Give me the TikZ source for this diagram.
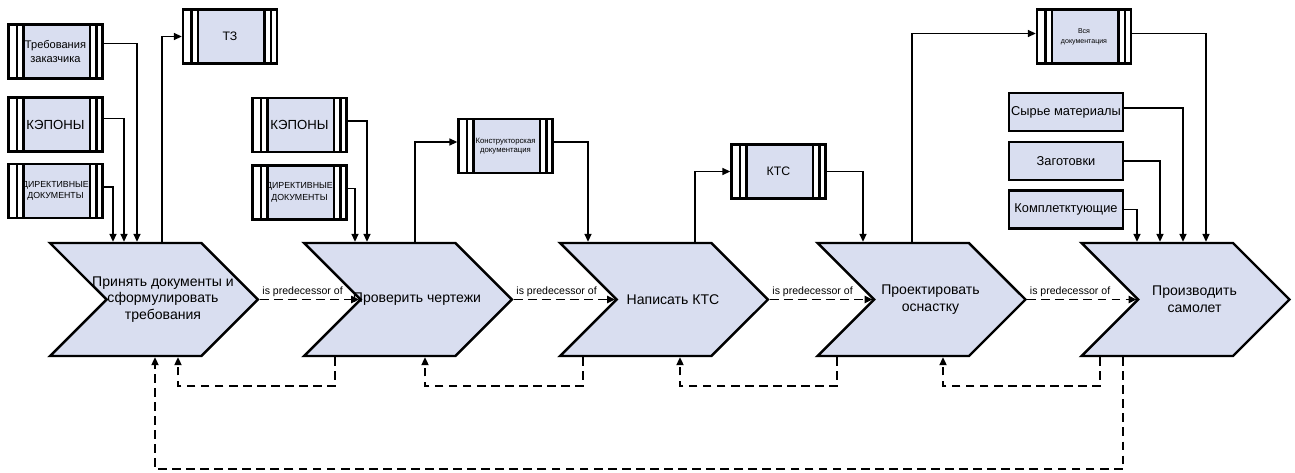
\documentclass[tikz,border=0pt]{standalone}
\usepackage{fontspec}
\setmainfont{Liberation Sans}
\usetikzlibrary{arrows.meta,positioning,calc,shapes.symbols}
\definecolor{procfill}{HTML}{D9DEF0}

\begin{document}
\begin{tikzpicture}[x=0.02cm, y=-0.02cm, >={Triangle[length=4.5pt,width=4pt]}]
  \tikzstyle{proc}=[draw, line width=1.4pt, fill=procfill, signal, signal from=west, signal to=east, signal pointer angle=90, minimum width=4.16cm, minimum height=2.26cm, inner sep=0pt]
  \tikzstyle{proctxt}=[align=center, font=\fontsize{8}{9.5}\selectfont]
  \tikzstyle{doc}=[draw, line width=1.4pt, fill=procfill, minimum width=1.88cm, minimum height=1.08cm, align=center, inner sep=1pt,
    path picture={
      \fill[white] (path picture bounding box.south west) rectangle ([xshift=0.30cm]path picture bounding box.north west);
      \fill[white] (path picture bounding box.south east) rectangle ([xshift=-0.25cm]path picture bounding box.north east);
      \draw[line width=1.3pt] ([xshift=0.17cm]path picture bounding box.south west) -- ([xshift=0.17cm]path picture bounding box.north west);
      \draw[line width=1.3pt] ([xshift=0.30cm]path picture bounding box.south west) -- ([xshift=0.30cm]path picture bounding box.north west);
      \draw[line width=1.3pt] ([xshift=-0.12cm]path picture bounding box.south east) -- ([xshift=-0.12cm]path picture bounding box.north east);
      \draw[line width=1.3pt] ([xshift=-0.25cm]path picture bounding box.south east) -- ([xshift=-0.25cm]path picture bounding box.north east);
    }]
  \tikzstyle{res}=[draw, line width=1.4pt, fill=procfill, minimum width=2.28cm, minimum height=0.76cm, inner sep=1pt, font=\fontsize{7.3}{8.5}\selectfont]
  \tikzstyle{flow}=[->, line width=0.8pt]
  \tikzstyle{pred}=[->, line width=1.1pt, dash pattern=on 5pt off 3pt]
  \tikzstyle{fb}=[->, line width=1pt, dash pattern=on 5pt off 3pt]
  \tikzstyle{predlbl}=[pos=0, anchor=south west, inner sep=1pt, font=\fontsize{6}{7}\selectfont]
  \useasboundingbox (0,0) rectangle (1295,473);

  % input documents
  \node[doc, font=\fontsize{6.3}{8}\selectfont] (treb) at (55.5,51.5) {Требования\\заказчика};
  \node[doc, font=\fontsize{7.5}{9}\selectfont] (kep1) at (55.5,124.5) {КЭПОНЫ};
  \node[doc, font=\fontsize{5}{6.5}\selectfont] (dir1) at (55.5,191) {ДИРЕКТИВНЫЕ\\ДОКУМЕНТЫ};
  \node[doc, font=\fontsize{7}{8}\selectfont] (tz) at (230,36.5) {ТЗ};
  \node[doc, font=\fontsize{7.5}{9}\selectfont] (kep2) at (299.5,125) {КЭПОНЫ};
  \node[doc, font=\fontsize{5}{6.5}\selectfont] (dir2) at (299.5,192.5) {ДИРЕКТИВНЫЕ\\ДОКУМЕНТЫ};
  \node[doc, font=\fontsize{4.4}{5.5}\selectfont] (kdoc) at (505.5,146) {Конструкторская\\документация};
  \node[doc, font=\fontsize{7}{8}\selectfont] (kts) at (778.5,171.5) {КТС};
  \node[doc, font=\fontsize{4}{5.5}\selectfont] (alldoc) at (1084,36.5) {Вся\\документация};
  \node[res] (syr) at (1066,112) {Сырье материалы};
  \node[res] (zag) at (1066,161) {Заготовки};
  \node[res] (kompl) at (1066,209.5) {Комплетктующие};

  % process chain
  \node[proc] (p1) at (154,299.5) {};
  \node[proc] (p2) at (408,299.5) {};
  \node[proc] (p3) at (664,299.5) {};
  \node[proc] (p4) at (921.5,299.5) {};
  \node[proc] (p5) at (1185.5,299.5) {};
  \node[proctxt] (t1) at ($(p1)+(9,0)$) {Принять документы и\\сформулировать\\требования};
  \node[proctxt] (t2) at ($(p2)+(9,0)$) {Проверить чертежи};
  \node[proctxt] (t3) at ($(p3)+(9,0)$) {Написать КТС};
  \node[proctxt] (t4) at ($(p4)+(9,0)$) {Проектировать\\оснастку};
  \node[proctxt] (t5) at ($(p5)+(9,0)$) {Производить\\самолет};
  \coordinate (n2) at ($(p2)+(-49,0)$);
  \coordinate (n3) at ($(p3)+(-49,0)$);
  \coordinate (n4) at ($(p4)+(-49,0)$);
  \coordinate (n5) at ($(p5)+(-49,0)$);

  \draw[pred] (p1.east) -- node[predlbl] {is predecessor of} (n2);
  \draw[pred] (p2.east) -- node[predlbl] {is predecessor of} (n3);
  \draw[pred] (p3.east) -- node[predlbl] {is predecessor of} (n4);
  \draw[pred] (p4.east) -- node[predlbl] {is predecessor of} (n5);

  % inputs and outputs
  \draw[flow] ($(treb.east)+(0,-8)$) -| ($(p1.north)+(-17,0)$);
  \draw[flow] ($(kep1.east)+(0,-6)$) -| ($(p1.north)+(-30,0)$);
  \draw[flow] ($(dir1.east)+(0,-4)$) -| ($(p1.north)+(-41,0)$);
  \draw[flow] ($(p1.north)+(8,0)$) |- (tz.west);
  \draw[flow] ($(kep2.east)+(0,-4)$) -| ($(p2.north)+(-41,0)$);
  \draw[flow] ($(dir2.east)+(0,-4)$) -| ($(p2.north)+(-53,0)$);
  \draw[flow] ($(p2.north)+(7,0)$) |- ($(kdoc.west)+(0,-4)$);
  \draw[flow] ($(kdoc.east)+(0,-4)$) -| ($(p3.north)+(-76,0)$);
  \draw[flow] ($(p3.north)+(31,0)$) |- (kts.west);
  \draw[flow] (kts.east) -| ($(p4.north)+(-58.5,0)$);
  \draw[flow] ($(p4.north)+(-9.5,0)$) |- ($(alldoc.west)+(0,-3)$);
  \draw[flow] ($(alldoc.east)+(0,-3)$) -| ($(p5.north)+(20.5,0)$);
  \draw[flow] ($(syr.east)+(0,-4)$) -| ($(p5.north)+(-2.5,0)$);
  \draw[flow] (zag.east) -| ($(p5.north)+(-25.5,0)$);
  \draw[flow] (kompl.east) -| ($(p5.north)+(-48.5,0)$);

  % feedback
  \draw[fb] ($(p2.south)+(-73,0)$) -- ++(0,29) -| ($(p1.south)+(24,0)$);
  \draw[fb] ($(p3.south)+(-81,0)$) -- ++(0,29) -| ($(p2.south)+(17,0)$);
  \draw[fb] ($(p4.south)+(-84.5,0)$) -- ++(0,29) -| ($(p3.south)+(16,0)$);
  \draw[fb] ($(p5.south)+(-85.5,0)$) -- ++(0,29) -| ($(p4.south)+(21.5,0)$);
  \draw[fb] ($(p5.south)+(-62.5,0)$) -- ++(0,112) -| ($(p1.south)+(1,0)$);
\end{tikzpicture}
\end{document}
